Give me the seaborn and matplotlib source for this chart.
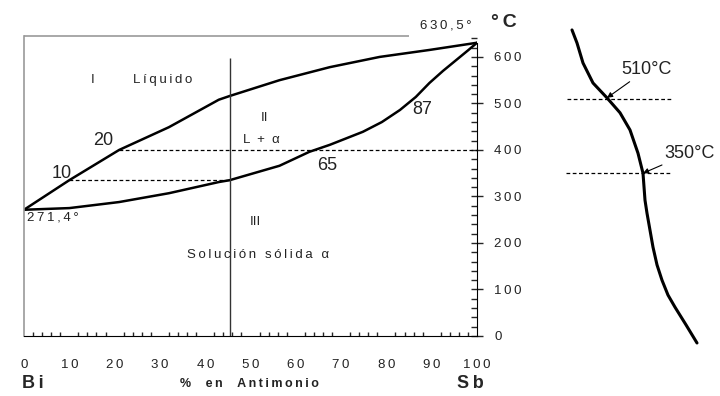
import matplotlib
matplotlib.use('Agg')
import matplotlib.pyplot as plt
import seaborn as sns
from matplotlib.ticker import MultipleLocator

# Bi-Sb phase diagram
liq_x = [0, 10, 21, 32, 43, 45.4, 56.4, 67.5, 78.5, 89.5, 100]
liq_t = [271.4, 335, 400, 449, 508, 516, 550, 578, 600, 615, 630.5]
sol_x = [0, 10, 21, 32, 43, 45.4, 56.4, 63, 67.5, 74.8, 79, 83, 86.5, 89.5, 92.5, 95.5, 98, 100]
sol_t = [271.4, 275, 288, 307, 331, 335, 366, 396, 411, 439, 460, 486, 514, 544, 570, 594, 614, 630.5]

# cooling curve of the 45 % alloy (time in arbitrary units)
cool_time = [1.2, 1.7, 2.3, 3.3, 4.7, 6.0, 7.0, 7.8, 8.3, 8.5, 8.7, 9.3, 9.7, 10.2, 10.8, 11.5, 12.6, 13.7]
cool_temp = [658, 630, 587, 544, 512, 480, 443, 393, 350, 292, 264, 191, 153, 120, 88, 62, 24, -15]

x_ticks = [0, 10, 20, 30, 40, 50, 60, 70, 80, 90, 100]
y_ticks = [0, 100, 200, 300, 400, 500, 600]


def spaced(s):
    # the original uses wide letter spacing
    return "\u2009".join(s)


sns.set_style("white")
plt.rcParams['font.family'] = ['Liberation Sans', 'DejaVu Sans']

fig = plt.figure(figsize=(7.2, 3.96), dpi=100)
ax = fig.add_axes([24 / 720, 60 / 396, 453 / 720, 300 / 396])
ax2 = fig.add_axes([560 / 720, 60 / 396, 140 / 720, 300 / 396])

sns.lineplot(x=liq_x, y=liq_t, ax=ax, color="black", lw=1.8, sort=False)
sns.lineplot(x=sol_x, y=sol_t, ax=ax, color="black", lw=1.8, sort=False)

ax.set_xlim(0, 100)
ax.set_ylim(0, 645)

# composition line and tie lines
ax.vlines(45.4, 0, 598, color="#333333", lw=1)
ax.hlines(400, 21, 100, color="black", lw=0.9, linestyles=(0, (3, 2)))
ax.hlines(335, 10, 45.4, color="black", lw=0.9, linestyles=(0, (3, 2)))
ax.hlines(645, 0, 85, color="#999999", lw=1.2, clip_on=False)

ax.spines["top"].set_visible(False)
ax.spines["left"].set_color("#999999")
ax.spines["left"].set_linewidth(1.2)
ax.spines["right"].set_color("black")
ax.spines["bottom"].set_color("black")
ax.spines["right"].set_bounds(0, 630)

ax.set_xticks(x_ticks)
ax.set_xticklabels([spaced(str(v)) for v in x_ticks])
ax.set_yticks(y_ticks)
ax.set_yticklabels([spaced(str(v)) for v in y_ticks])
ax.xaxis.set_minor_locator(MultipleLocator(2))
ax.yaxis.set_minor_locator(MultipleLocator(20))
ax.yaxis.tick_right()
ax.tick_params(axis="x", which="major", direction="inout", length=9, width=1,
               labelsize=9.5, pad=12, colors="black", labelcolor="#222222")
ax.tick_params(axis="x", which="minor", direction="in", length=3, width=1, bottom=True)
ax.tick_params(axis="y", which="major", direction="inout", length=9, width=1,
               labelsize=9.5, pad=8, left=False, right=True, labelcolor="#222222")
ax.tick_params(axis="y", which="minor", direction="in", length=4, width=1,
               left=False, right=True)

small = dict(fontsize=9.5, color="#222222")
narrow = dict(fontsize=13, color="#222222")
ax.text(15.2, 550, "I", ha="center", va="center", **small)
ax.text(30.7, 550, spaced("Líquido"), ha="center", va="center", **small)
ax.text(53.2, 469, "II", ha="center", va="center", **small)
ax.text(52.5, 421, "L  +  α", ha="center", va="center", **small)
ax.text(51, 245, "III", ha="center", va="center", **small)
ax.text(51.6, 174, spaced("Solución sólida α"), ha="center", va="center", **small)
ax.text(0.7, 254, spaced("271,4°"), ha="left", va="center", **small)
ax.text(93, 667, spaced("630,5°"), ha="center", va="center", clip_on=False, **small)
ax.text(17.4, 421, "20", ha="center", va="center", **narrow)
ax.text(8.4, 350, "10", ha="center", va="center", **narrow)
ax.text(66.9, 366, "65", ha="center", va="center", **narrow)
ax.text(88, 486, "87", ha="center", va="center", **narrow)
ax.text(106, 675, spaced("°C"), ha="center", va="center", fontsize=14, fontweight="bold", clip_on=False)
ax.text(2, -103, spaced("Bi"), ha="center", va="center", fontsize=13, fontweight="bold", clip_on=False)
ax.text(49.7, -103, spaced("%  en  Antimonio"), ha="center", va="center", fontsize=9,
        fontweight="bold", color="#222222", clip_on=False)
ax.text(98.5, -103, spaced("Sb"), ha="center", va="center", fontsize=13, fontweight="bold", clip_on=False)

# cooling curve
sns.lineplot(x=cool_time, y=cool_temp, ax=ax2, color="black", lw=2.2, sort=False, clip_on=False)
ax2.set_xlim(0, 14)
ax2.set_ylim(0, 645)
ax2.hlines(510, 0.7, 11.2, color="black", lw=0.9, linestyles=(0, (3, 2)))
ax2.hlines(350, 0.6, 11.1, color="black", lw=0.9, linestyles=(0, (3, 2)))
ax2.axis("off")

arrow = dict(arrowstyle="-|>", lw=0.8, color="black", shrinkA=0, shrinkB=0, mutation_scale=8)
ax2.annotate("510°C", xy=(4.7, 512), xytext=(6.1, 572), ha="left", va="center",
             arrowprops=arrow, **narrow)
ax2.annotate("350°C", xy=(8.3, 350), xytext=(10.4, 393), ha="left", va="center",
             arrowprops=arrow, **narrow)

fig.savefig("out.png", dpi=100)
